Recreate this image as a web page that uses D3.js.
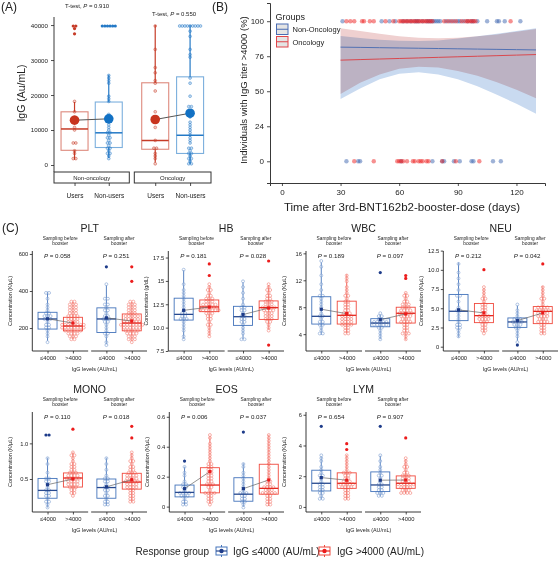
<!DOCTYPE html>
<html><head><meta charset="utf-8">
<script src="https://cdn.jsdelivr.net/npm/d3@7"></script>
<style>body{margin:0;background:#fff} text{font-family:"Liberation Sans",Arial,sans-serif;fill:#222}</style>
</head><body><svg id="c" width="560" height="563"></svg>
<script>
// ---------------- Panel A data ----------------
const aFacets = ["Non-oncology", "Oncology"];
const aGroups = ["Users", "Non-users"];
const aPvals = ["0.910", "0.550"];
const aTicks = [0, 10000, 20000, 30000, 40000];
// [lo, q1, median, q3, hi] in order: NonOnc-Users, NonOnc-NonUsers, Onc-Users, Onc-NonUsers
const aStats = [[1500,4200,10300,15200,18000],[2000,5000,9200,18000,25800],[700,4500,7000,23500,40000],[300,3300,8500,25200,40000]];
const aMeans = [12800, 13200, 13000, 14800];
const aOutliers = [[40000,39600,39000,37800],[40000,40000,40000,40000,40000,40000],[],[]];
const aPoints = [
  [18000,15200,13500,12500,11000,10300,6500,6000,4200,3000,2000,1500],
  [25800,25200,24300,23200,19800,18800,18000,14500,13800,13000,12200,11500,11000,10200,9500,9000,8500,8000,7500,7000,6500,6000,5500,5000,4500,4000,3500,3000,2500,2000],
  [40000,33000,27500,26500,24000,23500,21500,15000,13500,12500,11000,7000,5000,4500,3500,2500,1500,700],
  [40000,40000,40000,40000,40000,40000,40000,40000,39500,38000,37000,33000,31200,31000,25000,23500,20000,17000,16500,15500,13500,12500,11500,11000,10000,9500,8500,8000,7000,6000,5000,4500,4000,3500,3000,2500,2000,1500,1000,500,300]
];

// ---------------- Panel B data ----------------
const bGroups = ["Non-Oncology", "Oncology"];
const bTicksX = [0, 30, 60, 90, 120];
const bTicksY = [0, 25, 50, 75, 100];
const bTickLabelsY = ["0", "24", "50", "76", "100"];
const bFitX = [30,40,50,60,70,80,90,100,110,120,130];
const bNonFit = [81.5,81.3,81.1,80.9,80.7,80.5,80.3,80.1,79.9,79.7,79.5];
const bNonUp  = [89.5,88,86.8,86,85.8,86.3,87.6,89.2,91,93,95];
const bNonLo  = [44.5,52,58.5,62.5,63.5,62,58.5,53.5,47.5,41,34];
const bOncFit = [72.2,72.6,73,73.4,73.8,74.2,74.6,75,75.4,75.8,76.2];
const bOncUp  = [95,93,91,89.3,88.2,87.8,88.2,89.2,90.6,92.5,94.5];
const bOncLo  = [48,56,62,66,67.5,67,64.5,61,56.5,51,45];
const bNonDays100 = [31,51,55,58,62,64,66,68,69,70,72,74,75,76,77,78,79,80,81,84,86,88,90,91,93,95,97,98,100,105,110,111,114,122];
const bOncDays100 = [33,35,37,41,42,45,47,53,57,60,61,62,63,64,65,66,67,68,69,70,71,72,73,74,75,76,77,83,85,87,89,92,94,95,96,97,98,99,117];
const bNonDays0 = [33,39,40,61,77,82,83,88,91,97,98,108,112];
const bOncDays0 = [37,47,59,60,61,62,64,67,68,70,71,72,74,75,82,89,101];

// ---------------- Panel C data ----------------
const cNames = ["PLT","HB","WBC","NEU","MONO","EOS","LYM"];
const cYTitles = ["Concentration (K/\u03bcL)","Concentration (g/dL)","Concentration (K/\u03bcL)","Concentration (K/\u03bcL)","Concentration (K/\u03bcL)","Concentration (K/\u03bcL)","Concentration (K/\u03bcL)"];
const cDomains = [[76,616],[7.5,18.2],[1.5,16.35],[-0.56,12.45],[0.037,1.44],[-0.036,0.632],[-0.33,6.18]];
const cTickVals = [[200,400,600],[7.5,10,12.5,15,17.5],[4,8,12,16],[0,2.5,5,7.5,10,12.5],[0.5,1.0],[0,0.2,0.4,0.6],[0,2,4,6]];
const cTickLabels = [["200","400","600"],["7.5","10.0","12.5","15","17.5"],["4","8","12","16"],["0","2.5","5.0","7.5","10.0","12.5"],["0.5","1.0"],["0","0.2","0.4","0.6"],["0","2","4","6"]];
const cPvals = [["0.058","0.251"],["0.181","0.028"],["0.189","0.097"],["0.212","0.042"],["0.110","0.018"],["0.006","0.037"],["0.654","0.907"]];
const cFacets = [["Sampling before","booster"],["Sampling after","booster"]];
const cGroups = ["\u22644000", ">4000"];
// per panel: [before<=, before>, after<=, after>] each [lo,q1,med,q3,hi]
const cStats = [
  [[131,194.5,249,285,396],[140,185,211,258,342],[113,176,249,309,431],[131,185,227,276,340]],
  [[8.8,10.81,11.42,13.15,16.16],[9.16,11.71,12.21,12.96,14.5],[8.76,10.24,11.17,12.28,14.84],[9.8,10.88,12.14,12.86,14.55]],
  [[3.9,5.5,6.65,9.56,14.66],[4.15,5.5,6.8,8.9,12.9],[3.25,5.1,5.65,6.3,6.9],[3.15,5.65,7.1,8.0,10.15]],
  [[1.2,3.39,4.61,6.8,10.95],[1.9,3.13,4.04,5.62,7.58],[0.77,2.51,3.22,3.74,5.35],[1.64,3.0,4.6,5.22,7.9]],
  [[0.10,0.23,0.34,0.508,0.80],[0.277,0.387,0.514,0.585,0.877],[0.126,0.23,0.38,0.5,0.8],[0.18,0.358,0.457,0.58,0.868]],
  [[0.01,0.065,0.095,0.144,0.267],[0.02,0.092,0.144,0.26,0.47],[-0.002,0.036,0.083,0.193,0.29],[0.004,0.083,0.122,0.283,0.48]],
  [[0.49,1.04,1.54,2.39,3.27],[0.49,1.21,1.54,2.22,3.38],[0.71,1.0,1.43,2.28,3.33],[0.87,1.21,1.54,2.02,3.11]]
];
const cMeans = [
  [250,227,255,238],[11.85,12.2,11.4,12.1],[7.7,7.05,6.15,7.0],[4.79,4.4,3.39,4.4],
  [0.42,0.5,0.39,0.49],[0.12,0.234,0.12,0.178],[1.91,1.74,1.74,1.75]
];
const cOutliers = [
  [[],[],[523],[533,458]],
  [[],[16.74,15.59],[],[17.0,8.1]],
  [[],[],[13.0],[12.8,12.1]],
  [[],[9.85],[0.24],[10.95]],
  [[1.10,1.10],[1.18],[],[1.22,1.08]],
  [[0.30],[],[0.50],[]],
  [[5.34],[4.03,3.77],[5.3],[4.47]]
];
const cPoints = [
  [[396,385,352,330,312,290,285,280,272,265,258,252,248,242,235,225,215,205,195,185,165,150,131],
   [342,335,330,325,320,315,310,305,300,295,290,285,280,275,270,265,262,258,255,250,246,242,238,235,232,228,225,222,220,218,215,213,211,210,208,206,204,202,200,198,196,194,192,190,188,186,185,182,178,174,170,165,160,155,150,145,140],
   [431,360,355,330,320,309,300,290,280,270,262,255,249,245,240,230,220,205,190,176,170,150,130,113],
   [340,335,330,325,320,315,310,305,300,295,290,285,280,276,272,268,265,262,258,255,252,248,245,242,240,237,234,231,229,227,225,223,221,219,217,215,212,210,207,205,202,200,198,195,192,190,188,185,182,178,174,170,165,160,155,150,145,140,135,131]],
  [[16.16,14.5,14,13.6,13.3,13.15,12.9,12.5,12.2,11.9,11.6,11.42,11.3,11.1,11.0,10.9,10.81,10.6,10.3,10.0,9.6,9.2,8.8],
   [14.5,14.3,14.1,13.9,13.7,13.5,13.3,13.2,13.1,12.96,12.9,12.8,12.7,12.6,12.5,12.45,12.4,12.35,12.3,12.25,12.21,12.15,12.1,12.05,12.0,11.95,11.9,11.85,11.8,11.75,11.71,11.6,11.5,11.4,11.3,11.2,11.0,10.8,10.6,10.4,10.2,10.0,9.8,9.5,9.16],
   [14.84,14.2,13.6,13.0,12.6,12.28,12.1,11.9,11.7,11.5,11.3,11.17,11.0,10.9,10.7,10.5,10.24,10.0,9.7,9.3,8.9,8.76],
   [14.55,14.3,14.1,13.9,13.7,13.5,13.3,13.1,12.95,12.86,12.75,12.65,12.55,12.45,12.35,12.3,12.25,12.2,12.14,12.1,12.0,11.9,11.8,11.7,11.6,11.5,11.4,11.3,11.2,11.1,11.0,10.95,10.88,10.7,10.5,10.3,10.1,9.8]],
  [[14.66,14,12.8,11.5,10.5,9.8,9.56,9.2,8.7,8.3,7.8,7.2,6.8,6.65,6.4,6.0,5.7,5.5,5.2,4.8,4.4,4.1,3.9],
   [12.9,12.4,11.8,11.2,10.6,10.2,9.8,9.5,9.2,8.9,8.7,8.5,8.3,8.1,7.9,7.7,7.5,7.3,7.1,6.95,6.8,6.7,6.6,6.5,6.4,6.3,6.2,6.1,6.0,5.9,5.8,5.7,5.6,5.5,5.4,5.2,5.0,4.8,4.6,4.4,4.25,4.15],
   [6.9,6.7,6.5,6.3,6.1,6.0,5.9,5.8,5.7,5.65,5.6,5.5,5.4,5.3,5.2,5.1,4.9,4.7,4.3,3.8,3.25],
   [10.15,9.8,9.5,9.2,9.0,8.8,8.6,8.4,8.2,8.0,7.9,7.8,7.7,7.6,7.5,7.4,7.3,7.2,7.1,7.0,6.9,6.8,6.7,6.6,6.5,6.4,6.3,6.2,6.0,5.9,5.8,5.65,5.5,5.3,5.1,4.9,4.7,4.5,4.3,4.1,3.9,3.6,3.15]],
  [[10.95,9.8,9.0,8.2,7.5,6.8,6.6,5.8,5.0,4.8,4.61,4.4,4.0,3.6,3.39,3.0,2.8,2.6,2.4,2.0,1.6,1.2],
   [7.58,7.3,7.0,6.7,6.4,6.1,5.9,5.62,5.4,5.2,5.0,4.8,4.6,4.4,4.25,4.1,4.04,3.95,3.85,3.75,3.65,3.55,3.45,3.35,3.25,3.13,3.0,2.8,2.6,2.4,2.2,2.0,1.9],
   [5.35,4.8,4.2,3.9,3.74,3.6,3.5,3.4,3.3,3.22,3.1,3.0,2.9,2.7,2.51,2.3,2.0,1.7,1.3,0.77],
   [7.9,7.5,7.1,6.7,6.4,6.1,5.8,5.5,5.3,5.22,5.1,5.0,4.9,4.8,4.7,4.6,4.55,4.5,4.4,4.3,4.2,4.1,4.0,3.9,3.8,3.7,3.6,3.5,3.4,3.3,3.2,3.1,3.0,2.8,2.6,2.4,2.2,2.0,1.8,1.64]],
  [[0.8,0.7,0.6,0.52,0.5,0.48,0.45,0.42,0.38,0.35,0.34,0.32,0.3,0.27,0.25,0.23,0.2,0.18,0.15,0.1],
   [0.877,0.85,0.82,0.78,0.75,0.72,0.7,0.68,0.66,0.64,0.62,0.6,0.585,0.57,0.56,0.55,0.54,0.53,0.52,0.514,0.505,0.5,0.49,0.48,0.47,0.46,0.45,0.44,0.43,0.42,0.41,0.4,0.387,0.37,0.35,0.33,0.31,0.29,0.277],
   [0.8,0.72,0.62,0.55,0.52,0.5,0.48,0.45,0.42,0.4,0.38,0.36,0.34,0.31,0.28,0.25,0.23,0.2,0.17,0.15,0.126],
   [0.868,0.84,0.8,0.77,0.74,0.71,0.68,0.66,0.64,0.62,0.6,0.58,0.57,0.56,0.55,0.54,0.53,0.52,0.51,0.5,0.49,0.48,0.47,0.46,0.457,0.45,0.44,0.43,0.42,0.41,0.4,0.39,0.38,0.37,0.358,0.34,0.32,0.3,0.28,0.26,0.24,0.22,0.2,0.18]],
  [[0.267,0.23,0.2,0.17,0.15,0.144,0.13,0.12,0.11,0.1,0.095,0.09,0.085,0.08,0.07,0.065,0.05,0.04,0.03,0.02,0.01],
   [0.47,0.45,0.42,0.4,0.38,0.36,0.34,0.32,0.3,0.29,0.28,0.27,0.26,0.25,0.24,0.23,0.22,0.21,0.2,0.19,0.18,0.17,0.16,0.15,0.144,0.14,0.13,0.12,0.11,0.1,0.095,0.092,0.085,0.08,0.07,0.06,0.05,0.04,0.03,0.02],
   [0.29,0.26,0.23,0.2,0.193,0.17,0.15,0.13,0.11,0.1,0.09,0.083,0.075,0.065,0.055,0.045,0.036,0.025,0.015,0.0],
   [0.48,0.46,0.44,0.42,0.4,0.38,0.36,0.34,0.32,0.3,0.283,0.27,0.25,0.23,0.21,0.19,0.17,0.16,0.15,0.14,0.13,0.125,0.122,0.12,0.115,0.11,0.105,0.1,0.095,0.09,0.085,0.083,0.075,0.065,0.055,0.045,0.035,0.025,0.015,0.004]],
  [[3.27,3.1,2.9,2.6,2.39,2.25,2.1,1.95,1.8,1.65,1.54,1.45,1.35,1.25,1.15,1.04,0.95,0.85,0.75,0.6,0.49],
   [3.38,3.2,3.0,2.8,2.6,2.45,2.3,2.22,2.15,2.05,1.95,1.85,1.78,1.72,1.66,1.6,1.54,1.5,1.46,1.42,1.38,1.34,1.3,1.26,1.21,1.15,1.08,1.0,0.9,0.8,0.7,0.6,0.49],
   [3.33,3.0,2.7,2.45,2.28,2.1,1.95,1.8,1.65,1.5,1.43,1.35,1.25,1.15,1.05,1.0,0.92,0.85,0.78,0.71],
   [3.11,3.0,2.85,2.7,2.55,2.4,2.3,2.2,2.1,2.02,1.96,1.9,1.84,1.78,1.72,1.66,1.6,1.56,1.54,1.5,1.46,1.42,1.38,1.34,1.3,1.26,1.21,1.15,1.1,1.05,1.0,0.95,0.9,0.87]]
];
const legendLabels = ["IgG \u22644000 (AU/mL)", "IgG >4000 (AU/mL)"];

// ---------------- drawing ----------------
const svg = d3.select("#c");
const FONT = '"Liberation Sans",Arial,sans-serif';

function dotLayout(vals, y, cx, bin, sp) {
  const bins = new Map();
  vals.forEach(v => { const k = Math.round(y(v) / bin); if (!bins.has(k)) bins.set(k, []); bins.get(k).push(v); });
  const out = [];
  bins.forEach((arr, k) => arr.forEach((v, i) => out.push({x: cx + (i - (arr.length - 1) / 2) * sp, y: k * bin})));
  return out;
}
function styleAxis(g, fs) {
  g.selectAll(".domain").attr("stroke", "#222").attr("stroke-width", 0.9);
  g.selectAll(".tick line").attr("stroke", "#222").attr("stroke-width", 0.8);
  g.selectAll(".tick text").attr("font-size", fs).attr("font-family", FONT).attr("fill", "#333");
}

// ===== Panel A =====
(function(){
  const g = svg.append("g");
  g.append("text").attr("x", 1).attr("y", 11).attr("font-size", 12).text("(A)");
  const y = d3.scaleLinear().domain([-2000, 42300]).range([172, 17]);
  const facX = [[54, 129.3], [134.3, 211]];
  const ax = g.append("g").attr("transform", "translate(54,0)")
    .call(d3.axisLeft(y).tickValues(aTicks).tickSize(3).tickFormat(d3.format("d")));
  styleAxis(ax, 6.2);
  ax.select(".domain").attr("d", "M0," + 17 + "V172");
  g.append("text").attr("transform", "translate(25,93) rotate(-90)").attr("text-anchor", "middle")
    .attr("font-size", 10.5).text("IgG (Au/mL)");
  const pY = [7.5, 15.5];
  aFacets.forEach((f, fi) => {
    const [x0, x1] = facX[fi];
    const x = d3.scalePoint().domain(aGroups).range([x0, x1]).padding(0.6);
    g.append("rect").attr("x", x0).attr("y", 172).attr("width", x1 - x0).attr("height", 11)
      .attr("fill", "#fff").attr("stroke", "#333").attr("stroke-width", 1);
    g.append("text").attr("x", (x0 + x1) / 2).attr("y", 180).attr("text-anchor", "middle").attr("font-size", 6).text(f);
    const xa = g.append("g").attr("transform", "translate(0,183)").call(d3.axisBottom(x).tickSize(3).tickPadding(7));
    styleAxis(xa, 6.5); xa.select(".domain").remove();
    const t = g.append("text").attr("x", fi === 0 ? 87 : 174).attr("y", pY[fi]).attr("text-anchor", "middle").attr("font-size", 6);
    t.append("tspan").text("T-test, ");
    t.append("tspan").attr("font-style", "italic").text("P");
    t.append("tspan").text(" = " + aPvals[fi]);
    const meanPts = [];
    aGroups.forEach((gr, gi) => {
      const idx = fi * 2 + gi;
      const cx = x(gr), s = aStats[idx], col = gi === 0 ? "#c63b27" : "#2479c6";
      const bw = 27;
      g.append("line").attr("x1", cx).attr("x2", cx).attr("y1", y(s[0])).attr("y2", y(s[1])).attr("stroke", col).attr("stroke-width", 1.2);
      g.append("line").attr("x1", cx).attr("x2", cx).attr("y1", y(s[3])).attr("y2", y(s[4])).attr("stroke", col).attr("stroke-width", 1.2);
      g.append("rect").attr("x", cx - bw / 2).attr("y", y(s[3])).attr("width", bw).attr("height", y(s[1]) - y(s[3]))
        .attr("fill", "none").attr("stroke", col).attr("stroke-opacity", 0.6).attr("stroke-width", 1.1);
      g.append("line").attr("x1", cx - bw / 2).attr("x2", cx + bw / 2).attr("y1", y(s[2])).attr("y2", y(s[2]))
        .attr("stroke", col).attr("stroke-width", 1.5);
      dotLayout(aPoints[idx], y, cx, 2.6, 2.6).forEach(p => {
        g.append("circle").attr("cx", p.x).attr("cy", p.y).attr("r", 1.4).attr("fill", col).attr("fill-opacity", 0.25)
          .attr("stroke", col).attr("stroke-opacity", 0.75).attr("stroke-width", 0.6);
      });
      dotLayout(aOutliers[idx], y, cx, 2.6, 2.6).forEach(p => {
        g.append("circle").attr("cx", p.x).attr("cy", p.y).attr("r", 1.6).attr("fill", col);
      });
      meanPts.push([cx, y(aMeans[idx]), gi]);
    });
    g.append("line").attr("x1", meanPts[0][0]).attr("y1", meanPts[0][1]).attr("x2", meanPts[1][0]).attr("y2", meanPts[1][1])
      .attr("stroke", "#555").attr("stroke-width", 1);
    meanPts.forEach(m => g.append("circle").attr("cx", m[0]).attr("cy", m[1]).attr("r", 4.8).attr("fill", m[2] === 0 ? "#c8351f" : "#1271c4"));
  });
})();

// ===== Panel B =====
(function(){
  const g = svg.append("g");
  g.append("text").attr("x", 212).attr("y", 11).attr("font-size", 12).text("(B)");
  const x = d3.scaleLinear().domain([-6.1, 134.6]).range([270, 545]);
  const y = d3.scaleLinear().domain([-15.5, 113]).range([183, 3]);
  const xa = g.append("g").attr("transform", "translate(0,183)").call(d3.axisBottom(x).tickValues(bTicksX).tickSize(3));
  styleAxis(xa, 8);
  const ya = g.append("g").attr("transform", "translate(270,0)")
    .call(d3.axisLeft(y).tickValues(bTicksY).tickSize(3).tickFormat((d, i) => bTickLabelsY[i]));
  styleAxis(ya, 8);
  g.append("text").attr("x", 402).attr("y", 211).attr("text-anchor", "middle").attr("font-size", 11.5).text("Time after 3rd-BNT162b2-booster-dose (days)");
  g.append("text").attr("transform", "translate(247,90) rotate(-90)").attr("text-anchor", "middle").attr("font-size", 9.5)
    .text("Individuals with IgG titer >4000 (%)");
  const area = d3.area().x((d, i) => x(bFitX[i])).y0(d => y(d[0])).y1(d => y(d[1]));
  const line = d3.line().x((d, i) => x(bFitX[i])).y(d => y(d));
  g.append("path").datum(bNonLo.map((v, i) => [v, bNonUp[i]])).attr("d", area).attr("fill", "#c9daf0").style("mix-blend-mode", "multiply");
  g.append("path").datum(bOncLo.map((v, i) => [v, bOncUp[i]])).attr("d", area).attr("fill", "#efd0d0").style("mix-blend-mode", "multiply");
  g.append("path").datum(bNonFit).attr("d", line).attr("fill", "none").attr("stroke", "#5271b3").attr("stroke-width", 1);
  g.append("path").datum(bOncFit).attr("d", line).attr("fill", "none").attr("stroke", "#d9484e").attr("stroke-width", 1);
  const pts = (arr, v, col) => arr.forEach(d => g.append("circle").attr("cx", x(d)).attr("cy", y(v)).attr("r", 2.2)
    .attr("fill", col).attr("fill-opacity", 0.5));
  pts(bNonDays100, 100, "#3d66b0"); pts(bNonDays0, 0, "#3d66b0");
  pts(bOncDays100, 100, "#ee2222"); pts(bOncDays0, 0, "#ee2222");
  g.append("text").attr("x", 275.5).attr("y", 19.5).attr("font-size", 9).text("Groups");
  const lc = ["#4a6cb3", "#e0454a"];
  bGroups.forEach((n, i) => {
    const yy = 24 + i * 12.5;
    g.append("rect").attr("x", 276.5).attr("y", yy).attr("width", 11.5).attr("height", 10.5).attr("fill", "#e4e4e4")
      .attr("stroke", lc[i]).attr("stroke-width", 1);
    g.append("line").attr("x1", 276.5).attr("x2", 288).attr("y1", yy + 5.25).attr("y2", yy + 5.25).attr("stroke", lc[i]).attr("stroke-width", 1);
    g.append("text").attr("x", 292.5).attr("y", yy + 8).attr("font-size", 7.5).text(n);
  });
})();

// ===== Panel C =====
(function(){
  const g = svg.append("g");
  g.append("text").attr("x", 2).attr("y", 232).attr("font-size", 12).text("(C)");
  const colLeft = [0, 137, 274, 411, 0, 137, 274];
  const axisXs = [32.3, 168.3, 306, 443.3, 32.3, 169.3, 306];
  const boxCol = ["#4474bb", "#f04a3e"], medCol = ["#27498f", "#e4281f"], ptCol = ["#7d9fd2", "#f37d74"], dark = ["#1e3c8a", "#ec1c1c"];
  cNames.forEach((name, pi) => {
    const row = pi < 4 ? 0 : 1, off = row * 161;
    const ax0 = axisXs[pi], right = colLeft[pi] + 147;
    const top = 251 + off, bot = 351 + off;
    const y = d3.scaleLinear().domain(cDomains[pi]).range([bot, top]);
    const pg = g.append("g");
    const center = (ax0 + right) / 2;
    pg.append("text").attr("x", center).attr("y", 232 + off).attr("text-anchor", "middle").attr("font-size", 10.5).text(name);
    const ya = pg.append("g").attr("transform", `translate(${ax0},0)`)
      .call(d3.axisLeft(y).tickValues(cTickVals[pi]).tickSize(2.5).tickPadding(1.5).tickFormat((d, i) => cTickLabels[pi][i]));
    styleAxis(ya, 5.8);
    ya.select(".domain").attr("d", `M0,${top}V${bot}`);
    pg.append("text").attr("transform", `translate(${ax0 - 20},${(top + bot) / 2}) rotate(-90)`).attr("text-anchor", "middle")
      .attr("font-size", 5.4).text(cYTitles[pi]);
    pg.append("text").attr("x", center + 5).attr("y", 370.5 + off).attr("text-anchor", "middle").attr("font-size", 5.4).text("IgG levels (AU/mL)");
    const fw = (right - ax0 - 3) / 2;
    [0, 1].forEach(fi => {
      const x0 = ax0 + fi * (fw + 3), x1 = x0 + fw;
      const x = d3.scalePoint().domain(cGroups).range([x0, x1]).padding(0.6);
      const fl = pg.append("text").attr("text-anchor", "middle").attr("font-size", 4.8).attr("fill", "#333");
      cFacets[fi].forEach((ln, li) => fl.append("tspan").attr("x", (x0 + x1) / 2).attr("y", 240 + off + li * 5).text(ln));
      const xa = pg.append("g").attr("transform", `translate(0,${bot})`).call(d3.axisBottom(x).tickSize(2.5).tickPadding(2.5));
      styleAxis(xa, 5.8);
      xa.select(".domain").attr("d", `M${x0},0H${x1}`);
      const t = pg.append("text").attr("x", (x0 + x1) / 2 - 3).attr("y", top + 6.5).attr("text-anchor", "middle").attr("font-size", 6.2);
      t.append("tspan").attr("font-style", "italic").text("P");
      t.append("tspan").text(" = " + cPvals[pi][fi]);
      const means = [];
      cGroups.forEach((gr, gi) => {
        const idx = fi * 2 + gi, s = cStats[pi][idx], cx = x(gr), bw = 19;
        pg.append("line").attr("x1", cx).attr("x2", cx).attr("y1", y(s[0])).attr("y2", y(s[4])).attr("stroke", boxCol[gi]).attr("stroke-width", 0.9);
        dotLayout(cPoints[pi][idx], y, cx, 2.9, 3.1).forEach(p => {
          pg.append("circle").attr("cx", p.x).attr("cy", p.y).attr("r", 1.45).attr("fill", "#fff").attr("fill-opacity", 0.3)
            .attr("stroke", ptCol[gi]).attr("stroke-width", 0.6);
        });
        pg.append("rect").attr("x", cx - bw / 2).attr("y", y(s[3])).attr("width", bw).attr("height", y(s[1]) - y(s[3]))
          .attr("fill", "none").attr("stroke", boxCol[gi]).attr("stroke-width", 0.9);
        pg.append("line").attr("x1", cx - bw / 2).attr("x2", cx + bw / 2).attr("y1", y(s[2])).attr("y2", y(s[2]))
          .attr("stroke", medCol[gi]).attr("stroke-width", 1.3);
        dotLayout(cOutliers[pi][idx], y, cx, 2.9, 3.1).forEach(p => {
          pg.append("circle").attr("cx", p.x).attr("cy", p.y).attr("r", 1.6).attr("fill", dark[gi]);
        });
        means.push([cx, y(cMeans[pi][idx])]);
      });
      pg.append("line").attr("x1", means[0][0]).attr("y1", means[0][1]).attr("x2", means[1][0]).attr("y2", means[1][1])
        .attr("stroke", "#666").attr("stroke-width", 0.7);
      means.forEach((m, gi) => pg.append("rect").attr("x", m[0] - 1.6).attr("y", m[1] - 1.6).attr("width", 3.2).attr("height", 3.2).attr("fill", dark[gi]));
    });
  });
  g.append("text").attr("x", 209).attr("y", 555).attr("text-anchor", "end").attr("font-size", 10).text("Response group");
  const kx = [216, 319], tx = [233, 337];
  legendLabels.forEach((lab, i) => {
    const cx = kx[i] + 5.5, cy = 551;
    g.append("line").attr("x1", cx).attr("x2", cx).attr("y1", cy - 6).attr("y2", cy + 6).attr("stroke", boxCol[i]).attr("stroke-width", 1);
    g.append("rect").attr("x", kx[i]).attr("y", cy - 4).attr("width", 11).attr("height", 8).attr("fill", "#fff").attr("stroke", boxCol[i]).attr("stroke-width", 1);
    g.append("line").attr("x1", kx[i]).attr("x2", kx[i] + 11).attr("y1", cy).attr("y2", cy).attr("stroke", medCol[i]).attr("stroke-width", 1.2);
    g.append("circle").attr("cx", cx).attr("cy", cy).attr("r", 2.2).attr("fill", dark[i]);
    g.append("text").attr("x", tx[i]).attr("y", 555).attr("font-size", 10).text(lab);
  });
})();
</script></body></html>
